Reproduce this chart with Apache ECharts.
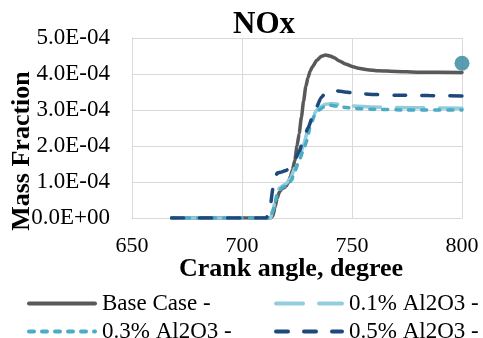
<!DOCTYPE html>
<html>
<head>
<meta charset="utf-8">
<script src="https://cdn.jsdelivr.net/npm/echarts@6/dist/echarts.min.js"></script>
<style>
  html, body { margin: 0; padding: 0; background: #ffffff; }
  #chart { width: 483px; height: 338px; }
</style>
</head>
<body>
<div id="chart"></div>
<script>
// NOx mass fraction vs crank angle; values are given in units of 1e-4.
const UNIT = 1e-4;

const baseAngle = [668, 713, 714, 715, 716, 717, 718, 719, 720, 721, 722, 723, 724, 725, 726, 727, 728, 729, 730, 731, 732, 734, 736, 738, 740, 742, 744, 747, 750, 753, 757, 762, 770, 780, 800];
const baseCase  = [0, 0, 0.05, 0.3, 0.55, 0.72, 0.8, 0.84, 0.88, 0.98, 1.15, 1.35, 1.6, 2.0, 2.35, 2.8, 3.25, 3.65, 3.9, 4.08, 4.2, 4.38, 4.49, 4.53, 4.5, 4.45, 4.37, 4.28, 4.21, 4.16, 4.12, 4.09, 4.07, 4.05, 4.04];

const al01Angle = [668, 713, 714, 715, 716, 717, 719, 720, 722, 724, 725, 727, 728, 730, 732, 734, 736, 738, 741, 745, 750, 760, 770, 785, 800];
const al01      = [0, 0, 0.2, 0.45, 0.68, 0.83, 0.92, 0.95, 1.1, 1.38, 1.55, 1.85, 2.05, 2.45, 2.8, 3.0, 3.1, 3.16, 3.18, 3.15, 3.11, 3.08, 3.07, 3.06, 3.05];

const al03Angle = [668, 713, 714, 715, 716, 717, 719, 721, 722.5, 724, 726, 728, 729.5, 731, 733, 735, 737, 740, 743, 747, 752, 760, 775, 800];
const al03      = [0, 0, 0.2, 0.45, 0.65, 0.78, 0.87, 0.92, 1.05, 1.3, 1.6, 1.9, 2.15, 2.55, 2.85, 3.0, 3.08, 3.13, 3.11, 3.07, 3.04, 3.02, 3.0, 3.0];

const al05Angle = [668, 711, 712, 713, 714, 715, 716, 718, 720, 722, 724, 726, 728, 730, 732, 734, 736, 738, 740, 743, 746, 750, 755, 760, 770, 785, 800];
const al05      = [0, 0, 0.1, 0.4, 0.8, 1.1, 1.25, 1.28, 1.32, 1.4, 1.6, 1.85, 2.2, 2.5, 2.8, 3.1, 3.35, 3.47, 3.52, 3.53, 3.51, 3.48, 3.45, 3.43, 3.41, 3.4, 3.39];

// Highlighted end value
const endMarker = [800, 4.3];

const seriesNames = ['Base Case -', '0.1% Al2O3 -', '0.3% Al2O3 -', '0.5% Al2O3 -'];
const xTicks = { min: 650, max: 800, step: 50 };
const yTicks = { min: 0, max: 5, step: 1 };

const pairs = (xs, ys) => xs.map((x, i) => [x, ys[i] * UNIT]);
const serif = '"Liberation Serif", "Times New Roman", serif';

function fmtSci(v) {
  if (Math.abs(v) < 1e-12) return '0.0E+00';
  const s = v.toExponential(1);            // e.g. "4.0e-4"
  const [m, e] = s.split('e');
  const sign = e[0] === '-' ? '-' : '+';
  const ex = Math.abs(parseInt(e, 10)).toString().padStart(2, '0');
  return m + 'E' + sign + ex;
}

function lineSeries(name, data, color, dash, z) {
  return {
    name, type: 'line', data, symbol: 'none', smooth: 0.2, smoothMonotone: 'x',
    z,
    lineStyle: { color, width: 3.5, type: dash, cap: 'round' },
    itemStyle: { color }
  };
}

function legendAt(name, left, top) {
  return {
    data: [name], left, top,
    itemWidth: 66, itemHeight: 14, itemGap: 0,
    itemStyle: { opacity: 0 },
    lineStyle: { width: 4, cap: 'round' },
    textStyle: { fontFamily: serif, fontSize: 23, color: '#000', padding: [0, 0, 0, 2] },
    padding: 0
  };
}

const chart = echarts.init(document.getElementById('chart'), null, { renderer: 'canvas' });

chart.setOption({
  animation: false,
  backgroundColor: '#ffffff',
  title: {
    text: 'NOx', left: 228, top: 4,
    textStyle: { fontFamily: serif, fontSize: 31, fontWeight: 'bold', color: '#000' }
  },
  grid: { left: 132, right: 21, top: 38, bottom: 120, containLabel: false },
  xAxis: {
    type: 'value', min: xTicks.min, max: xTicks.max, interval: xTicks.step,
    axisLine: { show: true, lineStyle: { color: '#D9D9D9', width: 1 } },
    axisTick: { show: false },
    splitLine: { show: true, lineStyle: { color: '#D9D9D9', width: 1 } },
    axisLabel: { margin: 17, fontFamily: serif, fontSize: 22, color: '#000' }
  },
  yAxis: {
    type: 'value', min: yTicks.min * UNIT, max: yTicks.max * UNIT, interval: yTicks.step * UNIT,
    axisLine: { show: true, lineStyle: { color: '#D9D9D9', width: 1 } },
    axisTick: { show: false },
    splitLine: { show: true, lineStyle: { color: '#D9D9D9', width: 1 } },
    axisLabel: { margin: 22, fontFamily: serif, fontSize: 23, color: '#000', formatter: fmtSci }
  },
  legend: [
    legendAt(seriesNames[0], 27, 292),
    legendAt(seriesNames[1], 274, 292),
    legendAt(seriesNames[2], 27, 320),
    legendAt(seriesNames[3], 274, 320)
  ],
  graphic: [
    {
      type: 'text', x: 291, y: 269,
      style: {
        text: 'Crank angle, degree', fontFamily: serif, fontSize: 26, fontWeight: 'bold',
        fill: '#000', align: 'center', verticalAlign: 'middle'
      }
    },
    {
      type: 'text', x: 22, y: 151, rotation: Math.PI / 2,
      style: {
        text: 'Mass Fraction', fontFamily: serif, fontSize: 26, fontWeight: 'bold',
        fill: '#000', align: 'center', verticalAlign: 'middle'
      }
    }
  ],
  series: [
    lineSeries(seriesNames[0], pairs(baseAngle, baseCase), '#595959', 'solid', 2),
    lineSeries(seriesNames[1], pairs(al01Angle, al01), '#93CDDD', [27, 16], 3),
    lineSeries(seriesNames[2], pairs(al03Angle, al03), '#4BACC6', [5, 8], 4),
    lineSeries(seriesNames[3], pairs(al05Angle, al05), '#1F497D', [12, 16], 5),
    {
      type: 'scatter', data: [[endMarker[0], endMarker[1] * UNIT]],
      symbol: 'circle', symbolSize: 15, z: 6,
      itemStyle: { color: '#31859C' }, silent: true
    }
  ]
});
</script>
</body>
</html>
